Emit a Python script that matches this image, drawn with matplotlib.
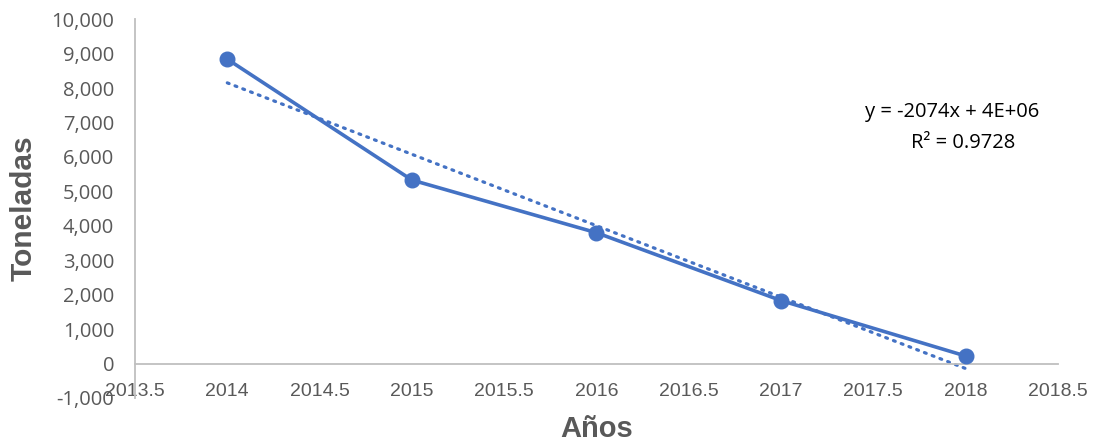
import numpy as np
import matplotlib.pyplot as plt
from matplotlib.ticker import FuncFormatter

anios = [2014, 2015, 2016, 2017, 2018]
toneladas = [8840, 5330, 3800, 1830, 220]
x_ticks = [2013.5, 2014, 2014.5, 2015, 2015.5, 2016, 2016.5, 2017, 2017.5, 2018, 2018.5]
y_ticks = list(range(-1000, 10001, 1000))

azul = '#4472C4'
gris = '#595959'

fig = plt.figure(figsize=(10.94, 4.43), dpi=100)
ax = fig.add_axes([0.1234, 0.1016, 0.8436, 0.855])

# eje horizontal en y = 0 (como en Excel); antes de configurar los ticks
for s in ['top', 'right']:
    ax.spines[s].set_visible(False)
ax.spines['bottom'].set_position(('data', 0))
ax.spines['bottom'].set_color('#BFBFBF')
ax.spines['bottom'].set_linewidth(1.3)
ax.spines['left'].set_color('#BFBFBF')
ax.spines['left'].set_linewidth(1.3)

ax.plot(anios, toneladas, color=azul, lw=2.6, marker='o', ms=10.5, zorder=3)

# linea de tendencia (minimos cuadrados)
m, b = np.polyfit(anios, toneladas, 1)
xt = np.array([anios[0], anios[-1]])
ax.plot(xt, m * xt + b, color=azul, lw=2.3, linestyle=(0, (0.6, 2.0)),
        dash_capstyle='round', zorder=2)

ax.set_xlim(2013.5, 2018.5)
ax.set_ylim(-1000, 10000)
ax.set_xticks(x_ticks)
ax.set_xticklabels([f'{v:g}' for v in x_ticks], family='Liberation Sans',
                   fontsize=14, color=gris)
ax.set_yticks(y_ticks)
ax.yaxis.set_major_formatter(FuncFormatter(lambda v, p: f'{int(v):,}'))
for t in ax.get_yticklabels():
    t.set_fontsize(14.5)
    t.set_color(gris)
    t.set_family('Open Sans')

ax.tick_params(axis='x', length=0, pad=14)
ax.tick_params(axis='y', length=0, pad=15)

ax.set_xlabel('Años', fontsize=21, fontweight='bold', color=gris, labelpad=11,
              family='Liberation Sans')
ax.set_ylabel('Toneladas', fontsize=21.5, fontweight='bold', color=gris, labelpad=10,
              family='Liberation Sans')

ax.text(0.885, 0.7546, 'y = -2074x + 4E+06', transform=ax.transAxes,
        ha='center', va='center', fontsize=14.5, family='Open Sans', color='black')
ax.text(0.897, 0.6728, 'R² = 0.9728', transform=ax.transAxes,
        ha='center', va='center', fontsize=14.5, family='Open Sans', color='black')

fig.savefig('out.png', dpi=100)
